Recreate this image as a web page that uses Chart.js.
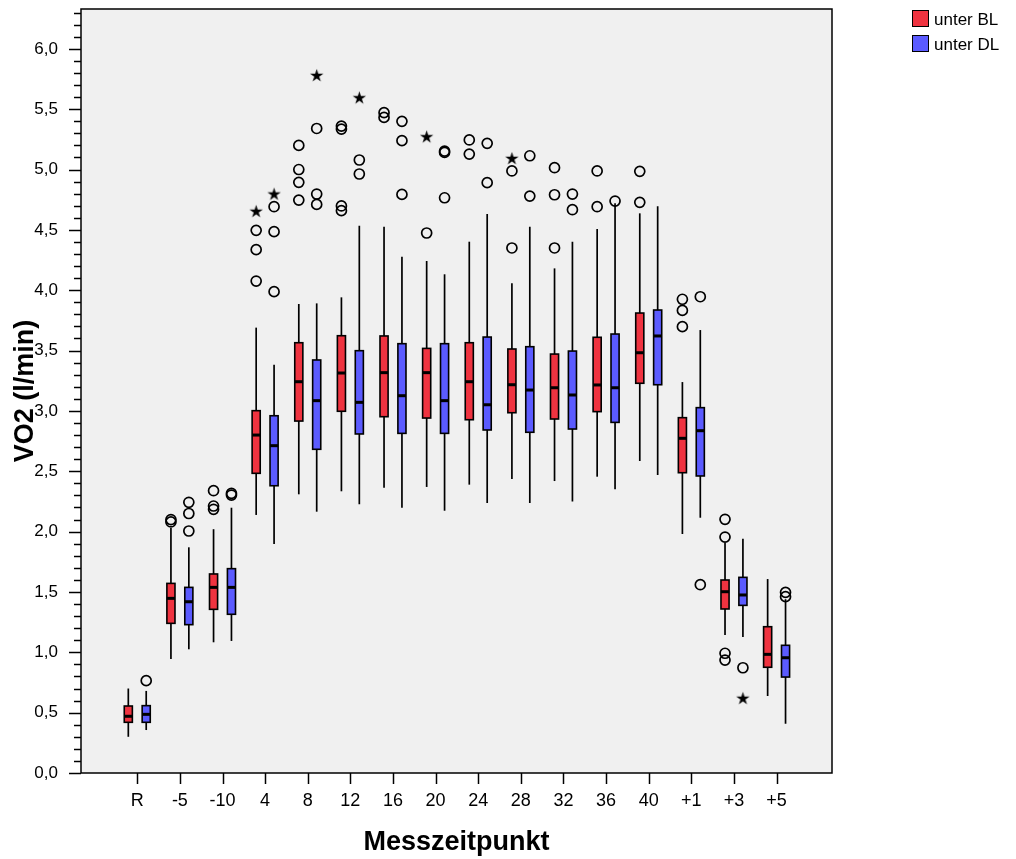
<!DOCTYPE html>
<html>
<head>
<meta charset="utf-8">
<script src="https://cdn.jsdelivr.net/npm/chart.js@4.4.1/dist/chart.umd.min.js"></script>
<style>
  body { margin: 0; background: #fff; }
  #wrap { position: relative; width: 1016px; height: 859px; }
  .leg { position: absolute; left: 912px; font: 17px "Liberation Sans", Arial, sans-serif; color: #000; }
  .leg span { display: inline-block; width: 15px; height: 15px; border: 1.5px solid #000; vertical-align: -2px; margin-right: 5px; }
</style>
</head>
<body>
<div id="wrap">
  <canvas id="vo2Canvas" width="1016" height="859"></canvas>
  <div class="leg" style="top:10px"><span style="background:#ef3340"></span>unter BL</div>
  <div class="leg" style="top:35px"><span style="background:#5b5bff"></span>unter DL</div>
</div>
<script>
// Messzeitpunkte
const labels = ['R', '-5', '-10', '4', '8', '12', '16', '20', '24', '28', '32', '36', '40', '+1', '+3', '+5'];

// unter BL (rot): Whisker unten, Q1, Median, Q3, Whisker oben
const blMin = [0.30, 0.945, 1.083, 2.138, 2.309, 2.334, 2.364, 2.37, 2.389, 2.436, 2.419, 2.455, 2.585, 1.98, 1.143, 0.638];
const blQ1  = [0.42, 1.24, 1.356, 2.483, 2.916, 2.997, 2.952, 2.941, 2.927, 2.985, 2.933, 2.994, 3.229, 2.488, 1.359, 0.876];
const blMed = [0.47, 1.447, 1.538, 2.80, 3.242, 3.314, 3.317, 3.317, 3.242, 3.217, 3.192, 3.215, 3.482, 2.773, 1.502, 0.983];
const blQ3  = [0.555, 1.571, 1.649, 3.002, 3.565, 3.623, 3.621, 3.518, 3.565, 3.513, 3.471, 3.61, 3.811, 2.944, 1.599, 1.212];
const blMax = [0.70, 2.03, 2.02, 3.69, 3.886, 3.941, 4.526, 4.242, 4.402, 4.057, 4.181, 4.507, 4.637, 3.239, 1.908, 1.607];

// unter DL (blau)
const dlMin = [0.356, 1.025, 1.094, 1.897, 2.165, 2.226, 2.198, 2.173, 2.237, 2.237, 2.25, 2.35, 2.469, 2.115, 1.127, 0.408];
const dlQ1  = [0.42, 1.229, 1.315, 2.38, 2.682, 2.809, 2.814, 2.814, 2.842, 2.823, 2.85, 2.905, 3.217, 2.461, 1.389, 0.795];
const dlMed = [0.486, 1.419, 1.538, 2.712, 3.085, 3.071, 3.126, 3.085, 3.051, 3.173, 3.132, 3.192, 3.621, 2.836, 1.475, 0.955];
const dlQ3  = [0.558, 1.538, 1.693, 2.96, 3.422, 3.499, 3.557, 3.557, 3.612, 3.532, 3.496, 3.637, 3.836, 3.027, 1.621, 1.058];
const dlMax = [0.68, 1.87, 2.198, 3.383, 3.891, 4.535, 4.278, 4.132, 4.631, 4.526, 4.402, 4.72, 4.695, 3.67, 1.941, 1.44];

// Ausreisser (Kreise) und Extremwerte (Sterne): [Index Messzeitpunkt, Wert]
const blOutliers = [[1, 2.10], [1, 2.08], [2, 2.339], [2, 2.212], [2, 2.185], [3, 4.496], [3, 4.336], [3, 4.076],
  [4, 5.20], [4, 5.0], [4, 4.894], [4, 4.747], [5, 5.36], [5, 5.335], [5, 4.698], [5, 4.659], [6, 5.471], [6, 5.432],
  [7, 4.474], [8, 5.245], [8, 5.128], [9, 4.988], [9, 4.35], [10, 5.015], [10, 4.791], [10, 4.35], [11, 4.988], [11, 4.692],
  [12, 4.985], [12, 4.728], [13, 3.925], [13, 3.833], [13, 3.698], [14, 2.102], [14, 1.955], [14, 0.992], [14, 0.936]];
const blExtremes = [[3, 4.654], [7, 5.272], [9, 5.092]];
const dlOutliers = [[0, 0.765], [1, 2.243], [1, 2.15], [1, 2.005], [2, 2.317], [2, 2.303], [3, 4.692], [3, 4.485], [3, 3.988],
  [4, 5.34], [4, 4.797], [4, 4.711], [5, 5.079], [5, 4.963], [6, 5.399], [6, 5.239], [6, 4.794], [7, 5.153], [7, 5.142], [7, 4.766],
  [8, 5.217], [8, 4.891], [9, 5.114], [9, 4.78], [10, 4.797], [10, 4.667], [11, 4.739], [13, 3.946], [13, 1.56], [14, 0.872],
  [15, 1.497], [15, 1.461]];
const dlExtremes = [[3, 4.797], [4, 5.78], [5, 5.595], [14, 0.619]];

const groupShift = 0.21;   // Versatz rot/blau um den Messzeitpunkt
const boxHalf = 0.095;     // halbe Boxbreite in x-Einheiten

// Stern als Punktsymbol
const starImg = document.createElement('canvas');
starImg.width = 15; starImg.height = 15;
(function () {
  const c = starImg.getContext('2d');
  c.fillStyle = '#000';
  c.beginPath();
  for (let i = 0; i < 10; i++) {
    const r = i % 2 === 0 ? 7 : 2.6;
    const a = -Math.PI / 2 + i * Math.PI / 5;
    const px = 7.5 + r * Math.cos(a), py = 7.9 + r * Math.sin(a);
    if (i === 0) c.moveTo(px, py); else c.lineTo(px, py);
  }
  c.closePath();
  c.fill();
})();

const toPoints = (list, shift) => list.map(p => ({ x: p[0] + shift, y: p[1] }));

const groups = [
  { color: '#ef3340', shift: -groupShift, min: blMin, q1: blQ1, med: blMed, q3: blQ3, max: blMax },
  { color: '#5b5bff', shift: groupShift, min: dlMin, q1: dlQ1, med: dlMed, q3: dlQ3, max: dlMax }
];

const boxPlugin = {
  id: 'boxes',
  beforeDraw(chart) {
    const { ctx, chartArea: a } = chart;
    ctx.save();
    ctx.fillStyle = '#f0f0f0';
    ctx.fillRect(a.left, a.top, a.width, a.height);
    ctx.restore();
  },
  beforeDatasetsDraw(chart) {
    const { ctx } = chart;
    const xs = chart.scales.x, ys = chart.scales.y;
    ctx.save();
    groups.forEach(g => {
      labels.forEach((_, i) => {
        const xc = xs.getPixelForValue(i + g.shift);
        const xl = xs.getPixelForValue(i + g.shift - boxHalf);
        const xr = xs.getPixelForValue(i + g.shift + boxHalf);
        // Whisker
        ctx.strokeStyle = '#000';
        ctx.lineWidth = 1.7;
        ctx.beginPath();
        ctx.moveTo(xc, ys.getPixelForValue(g.max[i]));
        ctx.lineTo(xc, ys.getPixelForValue(g.min[i]));
        ctx.stroke();
        // Box
        const yt = ys.getPixelForValue(g.q3[i]);
        const yb = ys.getPixelForValue(g.q1[i]);
        ctx.fillStyle = g.color;
        ctx.fillRect(xl, yt, xr - xl, yb - yt);
        ctx.lineWidth = 1.6;
        ctx.strokeRect(xl, yt, xr - xl, yb - yt);
        // Median
        const ym = ys.getPixelForValue(g.med[i]);
        ctx.fillStyle = '#000';
        ctx.fillRect(xl, ym - 1.5, xr - xl, 3);
      });
    });
    ctx.restore();
  },
  afterDraw(chart) {
    const { ctx, chartArea: a } = chart;
    const xs = chart.scales.x, ys = chart.scales.y;
    ctx.save();
    ctx.strokeStyle = '#000';
    ctx.lineWidth = 1.5;
    ctx.strokeRect(a.left, a.top, a.width, a.height);
    // y-Ticks (0,1-Schritte, 0,5 lang)
    for (let k = 0; k <= 63; k++) {
      const y = Math.round(ys.getPixelForValue(k / 10)) + 0.5;
      const len = k % 5 === 0 ? 12 : 7;
      ctx.beginPath();
      ctx.moveTo(a.left - len, y);
      ctx.lineTo(a.left, y);
      ctx.stroke();
    }
    // x-Ticks
    labels.forEach((_, i) => {
      const x = Math.round(xs.getPixelForValue(i)) + 0.5;
      ctx.beginPath();
      ctx.moveTo(x, a.bottom);
      ctx.lineTo(x, a.bottom + 11);
      ctx.stroke();
    });
    ctx.restore();
  }
};

const noPad = s => { s.paddingTop = 0; s.paddingBottom = 0; s.paddingLeft = 0; s.paddingRight = 0; };

const vo2Ctx = document.getElementById('vo2Canvas').getContext('2d');
const vo2Chart = new Chart(vo2Ctx, {
  type: 'scatter',
  data: {
    datasets: [
      { label: 'BL Ausreisser', data: toPoints(blOutliers, -groupShift), pointStyle: 'circle' },
      { label: 'DL Ausreisser', data: toPoints(dlOutliers, groupShift), pointStyle: 'circle' },
      { label: 'BL Extremwerte', data: toPoints(blExtremes, -groupShift), pointStyle: starImg },
      { label: 'DL Extremwerte', data: toPoints(dlExtremes, groupShift), pointStyle: starImg }
    ]
  },
  options: {
    responsive: false,
    animation: false,
    layout: { autoPadding: false, padding: { top: 9, right: 184, left: 0, bottom: 0 } },
    elements: {
      point: { radius: 5, hoverRadius: 5, borderWidth: 1.7, borderColor: '#000', backgroundColor: 'rgba(0,0,0,0)' }
    },
    plugins: { legend: { display: false }, tooltip: { enabled: false } },
    scales: {
      x: {
        type: 'linear',
        min: -1.32,
        max: 16.3,
        grid: { display: false },
        border: { display: false },
        afterBuildTicks: s => { s.ticks = labels.map((_, i) => ({ value: i })); },
        afterFit: s => { s.height = 86; noPad(s); },
        ticks: {
          autoSkip: false,
          maxRotation: 0,
          padding: 9,
          color: '#000',
          font: { family: '"Liberation Sans Narrow", "Liberation Sans", Arial, sans-serif', size: 18 },
          callback: v => labels[v]
        },
        title: {
          display: true,
          text: 'Messzeitpunkt',
          color: '#000',
          padding: { top: 0, bottom: 0 },
          font: { family: '"Liberation Sans", Arial, sans-serif', size: 27, weight: 'bold' }
        }
      },
      y: {
        min: 0,
        max: 6.33,
        grid: { display: false },
        border: { display: false },
        afterBuildTicks: s => {
          const t = [];
          for (let k = 0; k <= 12; k++) t.push({ value: k / 2 });
          s.ticks = t;
        },
        afterFit: s => { s.width = 81; noPad(s); },
        ticks: {
          padding: 15,
          color: '#000',
          font: { family: '"Liberation Sans", Arial, sans-serif', size: 17 },
          callback: v => v.toFixed(1).replace('.', ',')
        },
        title: {
          display: true,
          text: 'VO2 (l/min)',
          color: '#000',
          padding: { top: 9, bottom: 9 },
          font: { family: '"Liberation Sans", Arial, sans-serif', size: 27, weight: 'bold' }
        }
      }
    }
  },
  plugins: [boxPlugin]
});
</script>
</body>
</html>
